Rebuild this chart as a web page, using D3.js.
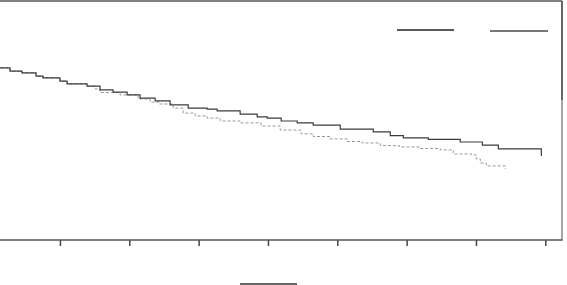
<!DOCTYPE html>
<html>
<head>
<meta charset="utf-8">
<script src="https://cdn.jsdelivr.net/npm/d3@7"></script>
<style>
  html, body { margin: 0; padding: 0; background: #fff; }
  svg { display: block; }
</style>
</head>
<body>
<svg id="chart" width="567" height="285"></svg>
<script>
// DATA
var xTicks = [0, 1, 2, 3, 4, 5, 6, 7, 8];

// group A (solid)
var timesA = [0, 0.28, 0.453, 0.655, 0.756, 1.0, 1.103, 1.391, 1.579, 1.766, 1.969, 2.156,
  2.373, 2.589, 2.849, 3.123, 3.267, 3.599, 3.845, 3.989, 4.191, 4.422, 4.653, 5.043,
  5.519, 5.764, 5.952, 6.313, 6.774, 7.092, 7.323, 7.943];
var survA = [0.720, 0.707, 0.699, 0.686, 0.678, 0.665, 0.653, 0.644, 0.628, 0.619, 0.607, 0.594,
  0.582, 0.565, 0.552, 0.548, 0.540, 0.527, 0.515, 0.510, 0.498, 0.490, 0.481, 0.464,
  0.452, 0.437, 0.427, 0.421, 0.410, 0.397, 0.381, 0.351];

// group B (dashed)
var timesB = [0, 0.28, 0.453, 0.655, 0.756, 1.0, 1.103, 1.391, 1.507, 1.579, 1.868, 2.127,
  2.300, 2.430, 2.632, 2.777, 2.950, 3.123, 3.311, 3.599, 3.902, 4.177, 4.480, 4.653,
  4.898, 5.144, 5.360, 5.620, 5.894, 6.197, 6.486, 6.673, 6.933, 7.005, 7.063, 7.150, 7.424];
var survB = [0.720, 0.707, 0.699, 0.686, 0.678, 0.665, 0.653, 0.644, 0.632, 0.617, 0.607, 0.590,
  0.577, 0.569, 0.552, 0.531, 0.519, 0.510, 0.498, 0.490, 0.477, 0.460, 0.444, 0.433,
  0.423, 0.412, 0.406, 0.395, 0.389, 0.383, 0.377, 0.360, 0.356, 0.339, 0.322, 0.310, 0.297];

// SETUP
var svg = d3.select('#chart');
var plotRight = 562, plotTop = 1, plotBottom = 240;

var x = d3.scaleLinear().domain([0, 8]).range([-9.4, 545.3]);
var y = d3.scaleLinear().domain([0, 1]).range([240, 1]);

svg.append('clipPath')
  .attr('id', 'plot-clip')
  .append('rect')
  .attr('x', 0).attr('y', plotTop)
  .attr('width', plotRight).attr('height', plotBottom - plotTop);

/**
 * Frame (top + right edges; the left edge is cut off)
 */
svg.append('line')
  .attr('x1', 0).attr('x2', plotRight)
  .attr('y1', plotTop).attr('y2', plotTop)
  .attr('stroke', '#555').attr('stroke-width', 1.5);
svg.append('line')
  .attr('x1', plotRight).attr('x2', plotRight)
  .attr('y1', plotTop).attr('y2', plotBottom)
  .attr('stroke', '#777').attr('stroke-width', 1.3);
svg.append('line')
  .attr('x1', plotRight).attr('x2', plotRight)
  .attr('y1', plotTop).attr('y2', 100)
  .attr('stroke', '#444').attr('stroke-width', 1.3);

/**
 * Bottom axis
 */
var xAxis = svg.append('g')
  .attr('transform', 'translate(0,' + plotBottom + ')')
  .call(d3.axisBottom(x).tickValues(xTicks).tickSize(6).tickFormat(''));
xAxis.select('.domain').remove();
xAxis.selectAll('.tick line')
  .attr('stroke', '#444').attr('stroke-width', 1.5);
svg.append('line')
  .attr('x1', 0).attr('x2', plotRight + 0.7)
  .attr('y1', plotBottom).attr('y2', plotBottom)
  .attr('stroke', '#555').attr('stroke-width', 1.5);

/**
 * Survival curves
 */
var stepLine = d3.line()
  .x(function (d) { return x(d[0]); })
  .y(function (d) { return y(d[1]); })
  .curve(d3.curveStepAfter);

var curves = svg.append('g').attr('clip-path', 'url(#plot-clip)');

curves.append('path')
  .attr('d', stepLine(d3.zip(timesB, survB)))
  .attr('fill', 'none')
  .attr('stroke', '#999')
  .attr('stroke-width', 1)
  .attr('stroke-dasharray', '3,2');

curves.append('path')
  .attr('d', stepLine(d3.zip(timesA, survA)))
  .attr('fill', 'none')
  .attr('stroke', '#3c3c3c')
  .attr('stroke-width', 1.2);

/**
 * Legend keys (no labels in the picture)
 */
svg.append('line')
  .attr('x1', 397).attr('x2', 454).attr('y1', 30).attr('y2', 30)
  .attr('stroke', '#222').attr('stroke-width', 1.5);
svg.append('line')
  .attr('x1', 490).attr('x2', 548).attr('y1', 31).attr('y2', 31)
  .attr('stroke', '#777').attr('stroke-width', 2);

// short rule under the axis
svg.append('line')
  .attr('x1', 240).attr('x2', 297).attr('y1', 284).attr('y2', 284)
  .attr('stroke', '#333').attr('stroke-width', 1.5);
</script>
</body>
</html>
